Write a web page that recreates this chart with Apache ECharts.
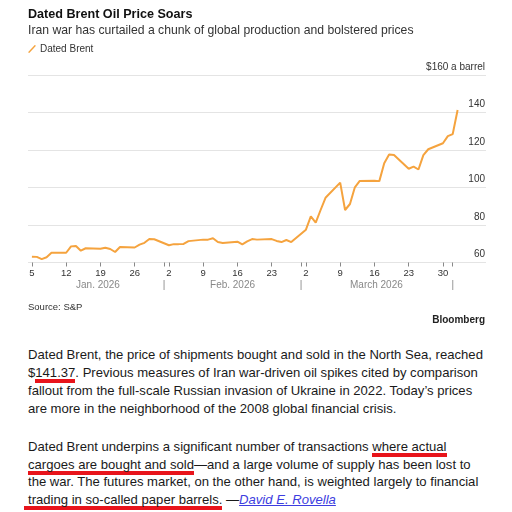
<!DOCTYPE html>
<html lang="en">
<head>
<meta charset="UTF-8">
<title>Dated Brent Oil Price Soars</title>
<script src="https://cdn.jsdelivr.net/npm/echarts@6/dist/echarts.min.js"></script>
<style>
    html, body { margin: 0; padding: 0; background: #fff; }
    body { width: 512px; height: 512px; overflow: hidden; position: relative;
           font-family: "Liberation Sans", Arial, Helvetica, sans-serif; }
    #main { position: absolute; left: 0; top: 0; width: 512px; height: 330px; }
    #story { position: absolute; left: 28px; top: 346px; font-size: 13.1px; line-height: 17.9px; color: #1a1a1a; }
    #story p { margin: 0; white-space: nowrap; }
    #story p + p { margin-top: 20px; }
    .mark { background: linear-gradient(#e8141b, #e8141b) no-repeat left bottom;
            background-size: 100% 4px; padding-bottom: 3px; }
    .mark.wide { margin-left: -4px; padding-left: 4px; }
    #story a { color: #3d3de0; font-style: italic; }
</style>
</head>
<body>
<div id="main"></div>
<div id="story">
    <p>Dated Brent, the price of shipments bought and sold in the North Sea, reached<br>
    $<span class="mark">141.37</span>. Previous measures of Iran war-driven oil spikes cited by comparison<br>
    fallout from the full-scale Russian invasion of Ukraine in 2022. Today’s prices<br>
    are more in the neighborhood of the 2008 global financial crisis.</p>
    <p>Dated Brent underpins a significant number of transactions <span class="mark">where actual</span><br>
    <span class="mark">cargoes are bought and sold</span>—and a large volume of supply has been lost to<br>
    the war. The futures market, on the other hand, is weighted largely to financial<br>
    <span class="mark wide">trading in so-called paper barrels.</span> —<a href="#">David E. Rovella</a></p>
</div>
<script>
    // Dated Brent, business days
    var dates = [
        '2026-01-05', '2026-01-06', '2026-01-07', '2026-01-08', '2026-01-09',
        '2026-01-12', '2026-01-13', '2026-01-14', '2026-01-15', '2026-01-16',
        '2026-01-19', '2026-01-20', '2026-01-21', '2026-01-22', '2026-01-23',
        '2026-01-26', '2026-01-27', '2026-01-28', '2026-01-29', '2026-01-30',
        '2026-02-02', '2026-02-03', '2026-02-04', '2026-02-05', '2026-02-06',
        '2026-02-09', '2026-02-10', '2026-02-11', '2026-02-12', '2026-02-13',
        '2026-02-16', '2026-02-17', '2026-02-18', '2026-02-19', '2026-02-20',
        '2026-02-23', '2026-02-24', '2026-02-25', '2026-02-26', '2026-02-27',
        '2026-03-02', '2026-03-03', '2026-03-04', '2026-03-05', '2026-03-06',
        '2026-03-09', '2026-03-10', '2026-03-11', '2026-03-12', '2026-03-13',
        '2026-03-16', '2026-03-17', '2026-03-18', '2026-03-19', '2026-03-20',
        '2026-03-23', '2026-03-24', '2026-03-25', '2026-03-26', '2026-03-27',
        '2026-03-30', '2026-03-31', '2026-04-01', '2026-04-02'
    ];
    var prices = [
        63.1, 63.0, 61.8, 62.8, 65.2,
        65.2, 68.6, 68.8, 66.3, 67.6,
        67.3, 67.9, 67.2, 65.6, 68.3,
        68.0, 69.5, 70.5, 72.5, 72.4,
        69.2, 69.8, 69.8, 69.9, 71.4,
        72.2, 72.2, 72.9, 70.9, 70.4,
        71.1, 69.7, 71.3, 72.5, 72.2,
        72.5, 71.5, 70.9, 72.0, 70.9,
        77.5, 84.6, 81.3, 88.0, 94.5,
        102.6, 88.0, 91.2, 100.1, 103.5,
        103.6, 103.4, 112.9, 117.6, 117.3,
        110.0, 111.1, 109.6, 117.3, 120.4,
        123.6, 127.4, 128.5, 141.37
    ];

    // x axis works in day-of-year numbers
    var dayTicks = [5, 12, 19, 26, 33, 40, 47, 54, 61, 68, 75, 82, 89];
    var monthStarts = [32, 60, 91];
    var monthNames = ['Jan. 2026', 'Feb. 2026', 'March 2026'];
    var monthCenters = [18.5, 46, 75.4];

    function dayOfYear(s) {
        var p = s.split('-');
        return (Date.UTC(+p[0], +p[1] - 1, +p[2]) - Date.UTC(2026, 0, 0)) / 86400000;
    }

    var chart = echarts.init(document.getElementById('main'));
    var orange = '#f5a33e';
    var font = '"Liberation Sans", Arial, Helvetica, sans-serif';

    var option = {
        animation: false,
        textStyle: { fontFamily: font },
        title: {
            text: 'Dated Brent Oil Price Soars',
            subtext: 'Iran war has curtailed a chunk of global production and bolstered prices',
            left: 28,
            top: 7,
            padding: 0,
            itemGap: 0,
            textStyle: { fontSize: 12.6, fontWeight: 'bold', color: '#111', lineHeight: 16 },
            subtextStyle: { fontSize: 12.2, color: '#333', lineHeight: 15 }
        },
        legend: {
            data: ['Dated Brent'],
            left: 28,
            top: 44,
            padding: 0,
            itemWidth: 8,
            itemHeight: 8,
            icon: 'path://M0,9 L1.6,10 L10,1 L8.4,0 Z',
            textStyle: { fontSize: 10, color: '#333', padding: [0, 0, 0, -1] }
        },
        grid: { left: 28, right: 26, top: 75, height: 187.5 },
        xAxis: [{
            type: 'value',
            min: 4.2,
            max: 97.8,
            axisLine: { show: false },
            splitLine: { show: false },
            axisTick: {
                show: true,
                customValues: [5, 12, 19, 26, 32, 33, 40, 47, 54, 60, 61, 68, 75, 82, 89, 91],
                length: 4,
                lineStyle: { color: '#888' }
            },
            axisLabel: {
                customValues: dayTicks,
                margin: 6,
                fontSize: 9.5,
                color: '#333',
                formatter: function (v) {
                    return new Date(Date.UTC(2026, 0, v)).getUTCDate();
                }
            }
        }, {
            type: 'value',
            min: 4.2,
            max: 97.8,
            position: 'bottom',
            offset: 0,
            axisLine: { show: false },
            axisTick: { show: false },
            splitLine: { show: false },
            axisLabel: {
                customValues: monthCenters.concat(monthStarts),
                margin: 18,
                fontSize: 10,
                color: '#888',
                formatter: function (v) {
                    var i = monthCenters.indexOf(v);
                    return i >= 0 ? monthNames[i] : '|';
                }
            }
        }],
        yAxis: {
            type: 'value',
            position: 'right',
            min: 60,
            max: 160,
            interval: 20,
            axisLine: { show: false },
            axisTick: { show: false },
            splitLine: { lineStyle: { color: '#e4e4e4', width: 1 } },
            axisLabel: {
                inside: true,
                margin: 1,
                align: 'right',
                verticalAlign: 'bottom',
                padding: [0, 0, 3, 0],
                fontSize: 10,
                color: '#333',
                formatter: function (v) {
                    return v === 160 ? '$160 a barrel' : v;
                }
            }
        },
        graphic: [{
            type: 'text',
            left: 28,
            top: 302,
            style: { text: 'Source: S&P', fontSize: 9.5, fill: '#333', fontFamily: font }
        }, {
            type: 'text',
            right: 27,
            top: 315,
            style: { text: 'Bloomberg', fontSize: 10, fontWeight: 'bold', fill: '#222', fontFamily: font }
        }],
        series: [{
            name: 'Dated Brent',
            type: 'line',
            showSymbol: false,
            data: dates.map(function (d, i) { return [dayOfYear(d), prices[i]]; }),
            lineStyle: { color: orange, width: 2 },
            itemStyle: { color: orange }
        }]
    };
    chart.setOption(option);
</script>
</body>
</html>
